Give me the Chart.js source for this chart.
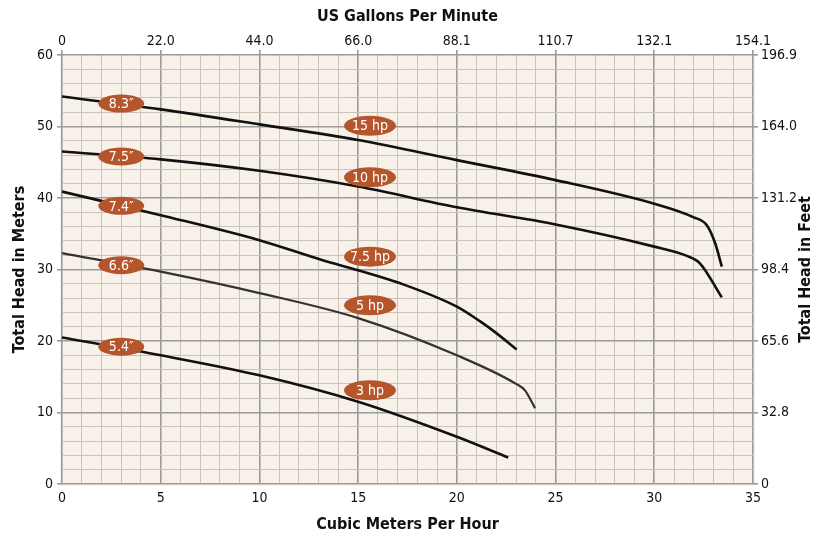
<!DOCTYPE html>
<html>
<head>
<meta charset="utf-8">
<script src="https://cdn.jsdelivr.net/npm/chart.js@4.4.1/dist/chart.umd.min.js"></script>
<style>
  html, body { margin: 0; padding: 0; background: #fff; }
  canvas { display: block; }
</style>
</head>
<body>
<canvas id="chart" width="817" height="538"></canvas>
<script>
const FONT = "'Liberation Sans Narrow', 'DejaVu Sans Condensed', sans-serif"

// top / right axis tick labels (unit conversions of the bottom / left ticks)
const gpmTickLabels = ['0', '22.0', '44.0', '66.0', '88.1', '110.7', '132.1', '154.1']
const feetTickLabels = ['0', '32.8', '65.6', '98.4', '131.2', '164.0', '196.9']

// pump curves: flow (m3/h) vs head (m)
const curve15hpFlow = [0, 5, 10, 15, 20, 25, 30, 32, 32.66, 33.08, 33.42]
const curve15hpHead = [54.2, 52.4, 50.3, 48.1, 45.3, 42.5, 39.2, 37.3, 36.2, 33.7, 30.4]

const curve10hpFlow = [0, 5, 10, 15, 20, 25, 30, 31.65, 32.3, 33.42]
const curve10hpHead = [46.5, 45.4, 43.8, 41.6, 38.7, 36.3, 33.2, 31.9, 30.9, 26.1]

const curve7hpFlow = [0, 5, 10, 13.2, 15, 17.1, 20, 21.2, 22, 23.03]
const curve7hpHead = [40.9, 37.6, 34.1, 31.3, 29.9, 28.1, 24.8, 22.7, 21.1, 18.8]

const curve5hpFlow = [0, 5, 10, 15, 20, 23, 23.45, 23.96]
const curve5hpHead = [32.3, 29.7, 26.7, 23.2, 18.0, 14.0, 13.1, 10.6]

const curve3hpFlow = [0, 5, 10, 15, 20, 22.6]
const curve3hpHead = [20.5, 18.0, 15.2, 11.5, 6.6, 3.7]

// curve tags
const impellerLabels = ['8.3″', '7.5″', '7.4″', '6.6″', '5.4″']
const impellerLabelHead = [53.2, 45.8, 38.9, 30.6, 19.2]
const impellerLabelFlow = 3.0
const powerLabels = ['15 hp', '10 hp', '7.5 hp', '5 hp', '3 hp']
const powerLabelHead = [50.1, 42.9, 31.8, 25.0, 13.1]
const powerLabelFlow = 15.6

const MAJOR = '#9b9b9b'
const MINOR = '#c9c3bc'
const TAG = '#b5552b'

const toPoints = (xs, ys) => xs.map((x, i) => ({ x, y: ys[i] }))

const curve = (flow, head, color = '#111', width = 2.6) => ({
  data: toPoints(flow, head),
  borderColor: color,
  borderWidth: width,
  pointRadius: 0,
  fill: false,
  cubicInterpolationMode: 'monotone'
})

const plotBackground = {
  id: 'plotBackground',
  beforeDraw(chart) {
    const { ctx, chartArea: a } = chart
    ctx.save()
    ctx.fillStyle = '#f7f1ea'
    ctx.fillRect(a.left - 2, a.top, a.width + 4, a.height + 2)
    ctx.restore()
  }
}

const curveTags = {
  id: 'curveTags',
  afterDatasetsDraw(chart) {
    const { ctx, scales } = chart
    const drawTag = (text, flow, head, rx, ry) => {
      const x = scales.x.getPixelForValue(flow)
      const y = scales.y.getPixelForValue(head)
      ctx.beginPath()
      ctx.ellipse(x, y, rx, ry, 0, 0, Math.PI * 2)
      ctx.fillStyle = TAG
      ctx.fill()
      ctx.fillStyle = '#fff'
      ctx.font = '14px ' + FONT
      ctx.textAlign = 'center'
      ctx.textBaseline = 'middle'
      ctx.fillText(text, x, y + 1)
    }
    ctx.save()
    impellerLabels.forEach((t, i) => drawTag(t, impellerLabelFlow, impellerLabelHead[i], 23, 9))
    powerLabels.forEach((t, i) => drawTag(t, powerLabelFlow, powerLabelHead[i], 26, 10))
    ctx.restore()
  }
}

// right axis title reads bottom-to-top, so it is drawn by hand
const rightTitle = {
  id: 'rightTitle',
  afterDraw(chart) {
    const { ctx, chartArea: a } = chart
    ctx.save()
    ctx.translate(806, (a.top + a.bottom) / 2)
    ctx.rotate(-Math.PI / 2)
    ctx.font = 'bold 16px ' + FONT
    ctx.fillStyle = '#111'
    ctx.textAlign = 'center'
    ctx.textBaseline = 'middle'
    ctx.fillText('Total Head in Feet', 0, 0)
    ctx.restore()
  }
}

const tickFont = { family: FONT, size: 14 }
const titleFont = { family: FONT, size: 16, weight: 'bold' }

new Chart(document.getElementById('chart'), {
  type: 'line',
  data: {
    datasets: [
      curve(curve15hpFlow, curve15hpHead),
      curve(curve10hpFlow, curve10hpHead),
      curve(curve7hpFlow, curve7hpHead),
      curve(curve5hpFlow, curve5hpHead, '#333', 2.2),
      curve(curve3hpFlow, curve3hpHead)
    ]
  },
  options: {
    responsive: false,
    animation: false,
    layout: { padding: 0 },
    plugins: {
      legend: { display: false },
      tooltip: { enabled: false }
    },
    scales: {
      x: {
        type: 'linear',
        position: 'bottom',
        min: 0,
        max: 35,
        afterFit: s => { s.height = 54 },
        ticks: {
          stepSize: 1,
          autoSkip: false,
          maxRotation: 0,
          padding: 6,
          color: '#111',
          font: tickFont,
          callback: v => (v % 5 === 0 ? v : '')
        },
        grid: {
          color: c => (c.tick.value % 5 === 0 ? MAJOR : MINOR),
          lineWidth: c => (c.tick.value % 5 === 0 ? 1.6 : 1),
          tickLength: 0
        },
        border: { display: false },
        title: { display: true, text: 'Cubic Meters Per Hour', color: '#111', font: titleFont, padding: { top: 0, bottom: 4 } }
      },
      x2: {
        type: 'linear',
        position: 'top',
        min: 0,
        max: 35,
        afterFit: s => { s.height = 55 },
        ticks: {
          stepSize: 5,
          autoSkip: false,
          maxRotation: 0,
          padding: 0,
          color: '#111',
          font: tickFont,
          callback: (v, i) => gpmTickLabels[i]
        },
        grid: { drawOnChartArea: false, color: MAJOR, tickLength: 5, lineWidth: 1.6 },
        border: { display: false },
        title: { display: true, text: 'US Gallons Per Minute', color: '#111', font: titleFont, padding: { top: 7, bottom: 0 } }
      },
      y: {
        type: 'linear',
        position: 'left',
        min: 0,
        max: 60,
        afterFit: s => { s.width = 62 },
        ticks: {
          stepSize: 2,
          autoSkip: false,
          padding: 4,
          color: '#111',
          font: tickFont,
          callback: v => (v % 10 === 0 ? v : '')
        },
        grid: {
          color: c => (c.tick.value % 10 === 0 ? MAJOR : MINOR),
          tickColor: c => (c.tick.value % 10 === 0 ? MAJOR : 'rgba(0,0,0,0)'),
          lineWidth: c => (c.tick.value % 10 === 0 ? 1.6 : 1),
          tickLength: 5
        },
        border: { display: false },
        title: { display: true, text: 'Total Head in Meters', color: '#111', font: titleFont, padding: { top: 10, bottom: 0 } }
      },
      y2: {
        type: 'linear',
        position: 'right',
        min: 0,
        max: 60,
        afterFit: s => { s.width = 64 },
        ticks: {
          stepSize: 10,
          autoSkip: false,
          padding: 3,
          color: '#111',
          font: tickFont,
          callback: (v, i) => feetTickLabels[i]
        },
        grid: { drawOnChartArea: false, color: MAJOR, tickLength: 5, lineWidth: 1.6 },
        border: { display: false }
      }
    }
  },
  plugins: [plotBackground, curveTags, rightTitle]
})
</script>
</body>
</html>
